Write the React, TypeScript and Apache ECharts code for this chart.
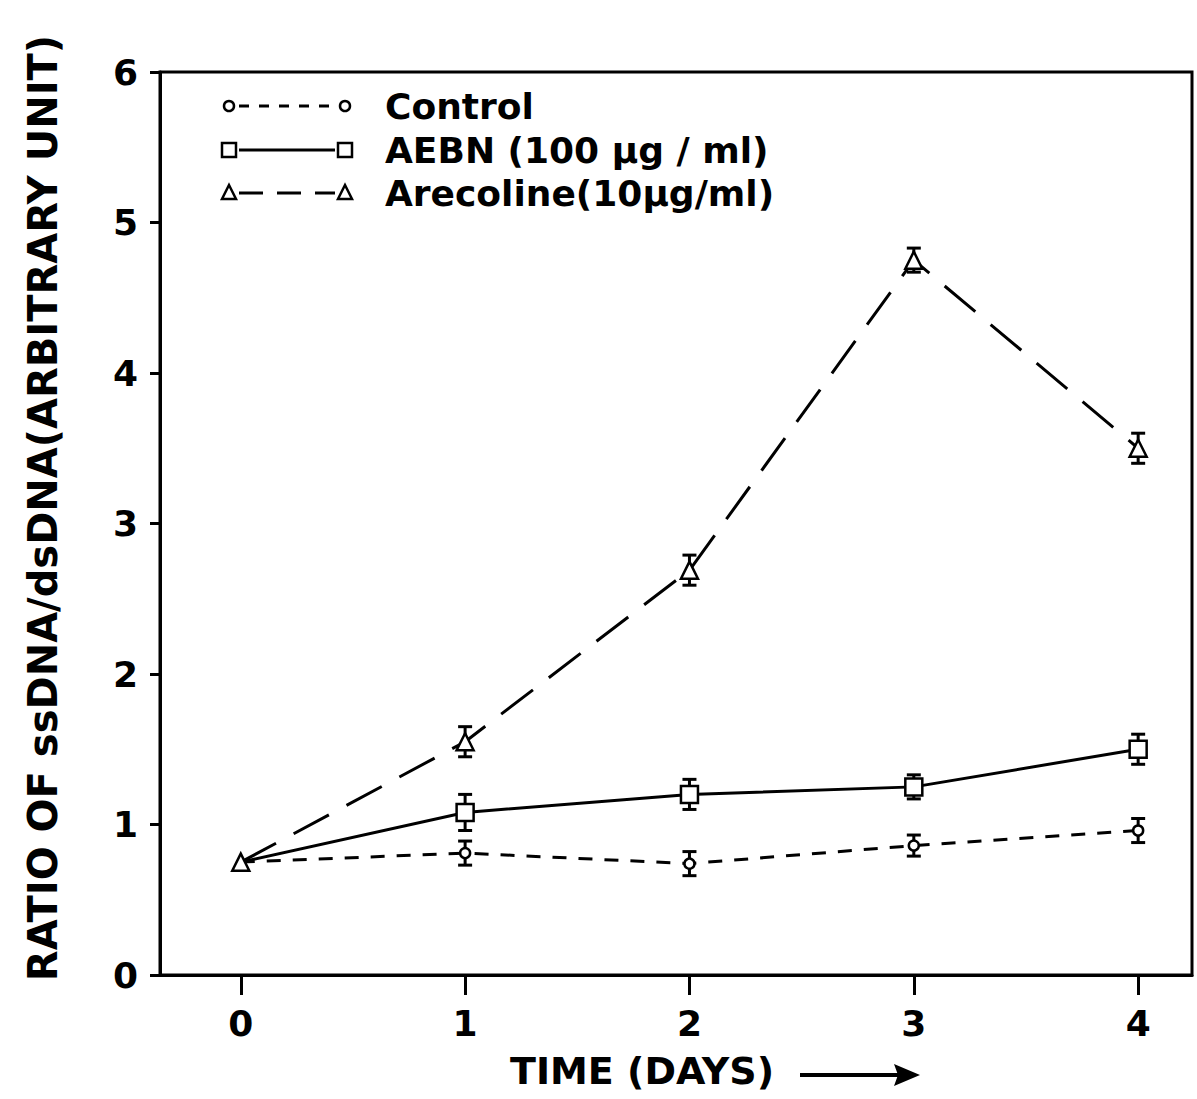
import React, { useEffect, useRef } from "react";
import * as echarts from "echarts";

const days = [0, 1, 2, 3, 4];
const controlMean = [0.75, 0.81, 0.74, 0.86, 0.96];
const controlErr = [0, 0.08, 0.08, 0.07, 0.08];
const aebnMean = [0.75, 1.08, 1.2, 1.25, 1.5];
const aebnErr = [0, 0.12, 0.1, 0.08, 0.1];
const arecolineMean = [0.75, 1.55, 2.69, 4.75, 3.5];
const arecolineErr = [0, 0.1, 0.1, 0.08, 0.1];
const xTicks = [0, 1, 2, 3, 4];
const legendLabels = ["Control", "AEBN (100 µg / ml)", "Arecoline(10µg/ml)"];
const xTitle = "TIME (DAYS)";
const yTitle = "RATIO OF ssDNA/dsDNA(ARBITRARY UNIT)";

const FONT = "DejaVu Sans";
const INK = "#000";

function lineData(means: number[], hideFirst: boolean) {
  return days.map((d, i) =>
    i === 0 && hideFirst ? { value: [d, means[i]], symbol: "none" } : { value: [d, means[i]] }
  );
}
function errData(means: number[], errs: number[]) {
  return days
    .map((d, i) => [d, means[i] - errs[i], means[i] + errs[i], errs[i]])
    .filter((r) => r[3] > 0);
}

const errRender = (params: any, api: any) => {
  const x = api.value(0);
  const lo = api.value(1);
  const hi = api.value(2);
  const t = api.coord([x, hi]);
  const b = api.coord([x, lo]);
  const w = 7;
  const st = { stroke: INK, lineWidth: 3 };
  return {
    type: "group",
    children: [
      { type: "line", shape: { x1: t[0], y1: t[1], x2: b[0], y2: b[1] }, style: st },
      { type: "line", shape: { x1: t[0] - w, y1: t[1], x2: t[0] + w, y2: t[1] }, style: st },
      { type: "line", shape: { x1: b[0] - w, y1: b[1], x2: b[0] + w, y2: b[1] }, style: st },
    ],
  };
};

function legendRow(y: number, kind: string, dash: number[] | null, label: string) {
  const x1 = 229;
  const x2 = 345;
  const children: any[] = [];
  const mk = (cx: number) => {
    if (kind === "circle")
      return { type: "circle", shape: { cx, cy: y, r: 5 }, style: { fill: "#fff", stroke: INK, lineWidth: 2.5 } };
    if (kind === "rect")
      return { type: "rect", shape: { x: cx - 7, y: y - 7, width: 14, height: 14 }, style: { fill: "#fff", stroke: INK, lineWidth: 2.5 } };
    return {
      type: "polygon",
      shape: { points: [[cx, y - 8], [cx + 7, y + 6], [cx - 7, y + 6]] },
      style: { fill: "#fff", stroke: INK, lineWidth: 2.5 },
    };
  };
  children.push({
    type: "line",
    shape: { x1: x1 + 10, y1: y, x2: x2 - 10, y2: y },
    style: { stroke: INK, lineWidth: 3, lineDash: dash || undefined },
  });
  children.push(mk(x1));
  children.push(mk(x2));
  children.push({
    type: "text",
    x: 385,
    y,
    style: {
      text: label,
      fill: INK,
      font: `bold 36px "${FONT}"`,
      verticalAlign: "middle",
      align: "left",
    },
  });
  return { type: "group", children };
}

export default function App() {
  const ref = useRef<HTMLDivElement>(null);
  useEffect(() => {
    if (!ref.current) return;
    const chart = echarts.init(ref.current, undefined, { renderer: "svg" });
    const option: any = {
      animation: false,
      backgroundColor: "#fff",
      grid: {
        left: 160,
        right: 5,
        top: 72,
        bottom: 124,
        show: true,
        borderColor: INK,
        borderWidth: 3,
        containLabel: false,
      },
      xAxis: {
        type: "value",
        min: -0.36,
        max: 4.24,
        splitLine: { show: false },
        axisLine: { show: true, onZero: false, lineStyle: { color: INK, width: 3 } },
        axisTick: {
          show: true,
          inside: false,
          length: 20,
          customValues: xTicks,
          lineStyle: { color: INK, width: 3 },
        },
        axisLabel: {
          customValues: xTicks,
          margin: 30,
          color: INK,
          fontFamily: FONT,
          fontWeight: "bold",
          fontSize: 36,
        },
      },
      yAxis: {
        type: "value",
        min: 0,
        max: 6,
        interval: 1,
        splitLine: { show: false },
        axisLine: { show: true, onZero: false, lineStyle: { color: INK, width: 3 } },
        axisTick: { show: true, inside: false, length: 10, lineStyle: { color: INK, width: 3 } },
        axisLabel: {
          margin: 22,
          color: INK,
          fontFamily: FONT,
          fontWeight: "bold",
          fontSize: 36,
        },
      },
      series: [
        {
          name: "Control",
          type: "line",
          data: lineData(controlMean, true),
          symbol: "circle",
          symbolSize: 10,
          lineStyle: { color: INK, width: 3, type: [14, 12] },
          itemStyle: { color: "#fff", borderColor: INK, borderWidth: 2.5 },
          z: 3,
        },
        {
          name: "AEBN (100 µg / ml)",
          type: "line",
          data: lineData(aebnMean, true),
          symbol: "rect",
          symbolSize: 17,
          lineStyle: { color: INK, width: 3 },
          itemStyle: { color: "#fff", borderColor: INK, borderWidth: 2.5 },
          z: 3,
        },
        {
          name: "Arecoline(10µg/ml)",
          type: "line",
          data: lineData(arecolineMean, false),
          symbol: "triangle",
          symbolSize: 17,
          lineStyle: { color: INK, width: 3, type: [40, 20] },
          itemStyle: { color: "#fff", borderColor: INK, borderWidth: 2.5 },
          z: 4,
        },
        { type: "custom", renderItem: errRender, data: errData(controlMean, controlErr), encode: { x: 0, y: [1, 2] }, z: 2 },
        { type: "custom", renderItem: errRender, data: errData(aebnMean, aebnErr), encode: { x: 0, y: [1, 2] }, z: 2 },
        { type: "custom", renderItem: errRender, data: errData(arecolineMean, arecolineErr), encode: { x: 0, y: [1, 2] }, z: 2 },
      ],
      graphic: [
        legendRow(106, "circle", [10, 10], legendLabels[0]),
        legendRow(150, "rect", null, legendLabels[1]),
        legendRow(193, "triangle", [24, 14], legendLabels[2]),
        {
          type: "text",
          x: 43,
          y: 508,
          rotation: Math.PI / 2,
          style: {
            text: yTitle,
            fill: INK,
            font: `bold 40px "${FONT}"`,
            align: "center",
            verticalAlign: "middle",
          },
        },
        {
          type: "text",
          x: 642,
          y: 1071,
          style: {
            text: xTitle,
            fill: INK,
            font: `bold 38px "${FONT}"`,
            align: "center",
            verticalAlign: "middle",
          },
        },
        {
          type: "line",
          shape: { x1: 800, y1: 1075, x2: 900, y2: 1075 },
          style: { stroke: INK, lineWidth: 4 },
        },
        {
          type: "polygon",
          shape: { points: [[920, 1075], [894, 1064], [898, 1075], [894, 1086]] },
          style: { fill: INK },
        },
      ],
    };
    chart.setOption(option);
    return () => chart.dispose();
  }, []);
  return (
    <div
      ref={ref}
      style={{ position: "absolute", left: 0, top: 0, width: 1197, height: 1099, background: "#fff" }}
    />
  );
}
